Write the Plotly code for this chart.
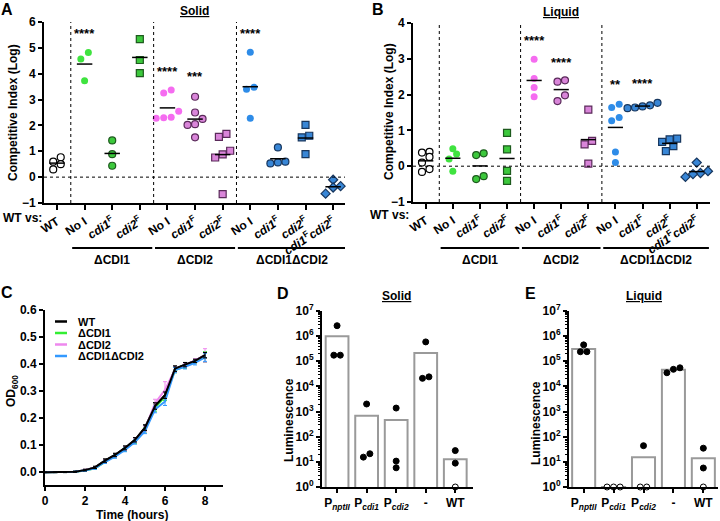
import numpy as np
import plotly.graph_objects as go

W, H = 720, 521
FONT = "Liberation Sans, Arial, sans-serif"


def px(x):
    return x / W


def py(y):
    return 1 - y / H


# ---------------- data: panel A (solid) and B (liquid), log competitive index
cat_labels = ["WT", "No I", "<i>cdi1</i><sup>F</sup>", "<i>cdi2</i><sup>F</sup>",
              "No I", "<i>cdi1</i><sup>F</sup>", "<i>cdi2</i><sup>F</sup>",
              "No I", "<i>cdi1</i><sup>F</sup>", "<i>cdi2</i><sup>F</sup>",
              "<i>cdi1</i><sup>F</sup><i>cdi2</i><sup>F</sup>"]
groups = ["ΔCDI1", "ΔCDI2", "ΔCDI1ΔCDI2"]

solid_wt = [0.77, 0.30, 0.50, 0.60]
solid_cdi1_noI = [4.82, 4.57, 3.73]
solid_cdi1_c1 = [1.42, 0.89, 0.44]
solid_cdi1_c2 = [5.34, 4.53, 4.02]
solid_cdi2_noI = [3.37, 3.25, 2.55, 2.30, 2.28, 2.32]
solid_cdi2_c1 = [3.11, 2.50, 2.25, 2.05, 2.02, 1.54]
solid_cdi2_c2 = [1.56, 1.67, 0.88, 1.02, 0.76, -0.66]
solid_dbl_noI = [4.83, 3.48, 3.40, 2.28]
solid_dbl_c1 = [1.15, 0.60, 0.53, 0.57]
solid_dbl_c2 = [2.02, 1.60, 1.54, 0.89]
solid_dbl_c12 = [-0.10, -0.35, -0.40, -0.64]
solid_stars = {1: "****", 3: "****", 4: "****", 5: "***", 7: "****"}
solid_star_y = {1: 5.55, 3: 6.15, 4: 4.1, 5: 3.9, 7: 5.55}

liquid_wt = [0.38, 0.40, 0.26, 0.10, -0.16, -0.08]
liquid_cdi1_noI = [0.49, 0.34, 0.20, -0.14]
liquid_cdi1_c1 = [0.36, 0.31, -0.28, -0.36]
liquid_cdi1_c2 = [0.93, 0.47, -0.13, -0.41]
liquid_cdi2_noI = [2.99, 2.45, 2.20, 1.94]
liquid_cdi2_c1 = [2.40, 2.36, 1.98, 1.82]
liquid_cdi2_c2 = [1.58, 0.71, 0.61, 0.07]
liquid_dbl_noI = [1.73, 1.64, 1.36, 1.27, 0.40, 0.10]
liquid_dbl_c1 = [1.62, 1.64, 1.67, 1.70, 1.77]
liquid_dbl_c2 = [0.75, 0.68, 0.77, 0.56, 0.42]
liquid_dbl_c12 = [0.10, -0.19, -0.22, -0.14, -0.30]
liquid_stars = {4: "****", 5: "****", 7: "**", 8: "****"}
liquid_star_y = {4: 3.5, 5: 2.9, 7: 2.27, 8: 2.3}

# ---------------- data: panel C growth curves
time_h = [0, 0.5, 1, 1.5, 2, 2.5, 3, 3.5, 4, 4.5, 5, 5.5, 6, 6.5, 7, 7.5, 8]
growth_names = ["WT", "ΔCDI1", "ΔCDI2", "ΔCDI1ΔCDI2"]
od_wt = [0.0, 0.0, 0.0, 0.002, 0.008, 0.018, 0.043, 0.064, 0.090, 0.120, 0.165, 0.245, 0.285, 0.383, 0.398, 0.412, 0.433]
od_cdi1 = [0.0, 0.0, 0.0, 0.002, 0.007, 0.015, 0.038, 0.060, 0.085, 0.115, 0.158, 0.238, 0.280, 0.378, 0.392, 0.410, 0.426]
od_cdi2 = [0.0, 0.0, 0.0, 0.002, 0.008, 0.017, 0.040, 0.062, 0.088, 0.118, 0.160, 0.255, 0.305, 0.380, 0.395, 0.412, 0.432]
od_dbl = [0.0, 0.0, 0.0, 0.002, 0.007, 0.015, 0.038, 0.058, 0.083, 0.112, 0.152, 0.232, 0.262, 0.378, 0.390, 0.405, 0.425]
sd_wt = [0.001, 0.001, 0.001, 0.002, 0.003, 0.004, 0.006, 0.006, 0.007, 0.008, 0.010, 0.012, 0.012, 0.010, 0.008, 0.006, 0.010]
sd_cdi1 = [0.001, 0.001, 0.001, 0.002, 0.003, 0.004, 0.005, 0.006, 0.007, 0.008, 0.009, 0.012, 0.015, 0.010, 0.008, 0.008, 0.020]
sd_cdi2 = [0.001, 0.001, 0.001, 0.002, 0.003, 0.004, 0.006, 0.006, 0.007, 0.008, 0.010, 0.015, 0.030, 0.010, 0.008, 0.008, 0.025]
sd_dbl = [0.001, 0.001, 0.001, 0.002, 0.003, 0.004, 0.005, 0.006, 0.007, 0.008, 0.009, 0.012, 0.015, 0.010, 0.008, 0.008, 0.015]

# ---------------- data: panels D and E luminescence
lum_labels = ["P<sub><i>nptII</i></sub>", "P<sub><i>cdi1</i></sub>", "P<sub><i>cdi2</i></sub>", "-", "WT"]
lum_solid = [[2.6e6, 1.75e5, 1.75e5], [2000, 15.4, 21], [1380, 5.8, 10.7], [5.9e5, 2.1e4, 2.4e4], [28, 8.9, 1]]
lum_liquid = [[4.5e5, 2.4e5, 2.4e5], [1, 1, 1], [44, 1, 1], [5.5e4, 3.5e4, 4.8e4], [35, 5.7, 1]]

# ---------------- styles
GREEN_L, GREEN, GREEN_E = "#3fe33f", "#3cc83c", "#1d5a1d"
PINK_L, PINK, PINK_E = "#f56cf0", "#d985d9", "#5a2a5a"
BLUE_L, BLUE, BLUE_E = "#2e8ce8", "#3886d6", "#17365e"
cat_style = [
    ("circle", "white", "black", 1.2),
    ("circle", GREEN_L, GREEN_L, 0),
    ("circle", GREEN, GREEN_E, 1.2),
    ("square", GREEN, GREEN_E, 1.2),
    ("circle", PINK_L, PINK_L, 0),
    ("circle", PINK, PINK_E, 1.2),
    ("square", PINK, PINK_E, 1.2),
    ("circle", BLUE_L, BLUE_L, 0),
    ("circle", BLUE, BLUE_E, 1.2),
    ("square", BLUE, BLUE_E, 1.2),
    ("diamond", BLUE, BLUE_E, 1.2),
]
growth_colors = ["black", "#33ee33", "#ee88ee", "#3399ff"]


def swarm(vals, px_y, px_x, diam):
    vals = np.asarray(vals, float)
    order = np.argsort(vals)
    off = np.zeros(len(vals))
    rows, cur = [], [order[0]]
    for i in order[1:]:
        if (vals[i] - vals[cur[0]]) * px_y < diam:
            cur.append(i)
        else:
            rows.append(cur)
            cur = [i]
    rows.append(cur)
    for row in rows:
        n = len(row)
        for j, i in enumerate(row):
            off[i] = (j - (n - 1) / 2) * diam / px_x
    return off


fig = go.Figure()
annos = []
shapes = []
tick_font = dict(family=FONT, size=12, color="black", weight="bold")


def bold(size=11, **kw):
    return dict(family=FONT, size=size, color="black", weight="bold", **kw)


def note(x, y, text, size=12, xref="paper", yref="paper", xanchor="center", angle=0, **fkw):
    annos.append(dict(x=x, y=y, xref=xref, yref=yref, text=text, showarrow=False,
                      xanchor=xanchor, yanchor="middle", textangle=angle, font=bold(size, **fkw)))


def scatter_panel(series, xa, ya, px_y, px_x, stars, star_y):
    for i, vals in enumerate(series):
        sym, fill, edge, lw = cat_style[i]
        off = swarm(vals, px_y, px_x, 7.5)
        fig.add_trace(go.Scatter(
            x=i + off, y=vals, mode="markers", xaxis=xa, yaxis=ya, cliponaxis=False,
            marker=dict(symbol=sym, size=7, color=fill, line=dict(color=edge, width=lw))))
        m = float(np.mean(vals))
        fig.add_trace(go.Scatter(x=[i - 0.28, i + 0.28], y=[m, m], mode="lines",
                                 xaxis=xa, yaxis=ya, line=dict(color="black", width=1.5)))
    for i, s in stars.items():
        note(i, star_y[i], s, 13, xref=xa, yref=ya)
    # dotted reference lines
    shapes.append(dict(type="line", xref=xa + " domain", yref=ya, x0=0, x1=1, y0=0, y1=0,
                       line=dict(color="black", width=1, dash="dot")))
    for xv in (0.5, 3.5, 6.5):
        shapes.append(dict(type="line", xref=xa, yref=ya + " domain", x0=xv, x1=xv, y0=0, y1=1,
                           line=dict(color="black", width=1, dash="dot")))


solid = [solid_wt, solid_cdi1_noI, solid_cdi1_c1, solid_cdi1_c2, solid_cdi2_noI, solid_cdi2_c1,
         solid_cdi2_c2, solid_dbl_noI, solid_dbl_c1, solid_dbl_c2, solid_dbl_c12]
liquid = [liquid_wt, liquid_cdi1_noI, liquid_cdi1_c1, liquid_cdi1_c2, liquid_cdi2_noI, liquid_cdi2_c1,
          liquid_cdi2_c2, liquid_dbl_noI, liquid_dbl_c1, liquid_dbl_c2, liquid_dbl_c12]
scatter_panel(solid, "x", "y", 25.86, 27.6, solid_stars, solid_star_y)
scatter_panel(liquid, "x2", "y2", 35.8, 27.1, liquid_stars, liquid_star_y)

# group underlines and labels
spans = [(0.55, 3.45), (3.55, 6.45), (6.55, 10.45)]
for xa in ("x", "x2"):
    for (a, b), g in zip(spans, groups):
        shapes.append(dict(type="line", xref=xa, yref="paper", x0=a, x1=b, y0=py(248), y1=py(248),
                           line=dict(color="black", width=2)))
        note((a + b) / 2, py(260), g, 12, xref=xa)

# ---------------- panel C
for name, od, sd, col in zip(growth_names, [od_wt, od_cdi1, od_cdi2, od_dbl],
                             [sd_wt, sd_cdi1, sd_cdi2, sd_dbl], growth_colors):
    fig.add_trace(go.Scatter(x=time_h, y=od, mode="lines", name=name, xaxis="x3", yaxis="y3",
                             line=dict(color=col, width=2),
                             error_y=dict(type="data", array=sd, color=col, thickness=1, width=2)))
# redraw WT on top
fig.add_trace(go.Scatter(x=time_h, y=od_wt, mode="lines", xaxis="x3", yaxis="y3",
                         line=dict(color="black", width=2),
                         error_y=dict(type="data", array=sd_wt, color="black", thickness=1, width=2)))
for k, (name, col) in enumerate(zip(growth_names, growth_colors)):
    yy = 321.5 + k * 11.5
    shapes.append(dict(type="line", xref="paper", yref="paper", x0=px(55), x1=px(67),
                       y0=py(yy), y1=py(yy), line=dict(color=col, width=2.5)))
    note(px(76), py(yy), name, 11, xanchor="left")


# ---------------- panels D and E
def lum_panel(data, xa, ya, px_x):
    means = [float(np.mean(v)) for v in data]
    fig.add_trace(go.Bar(x=list(range(5)), y=means, xaxis=xa, yaxis=ya, width=0.77,
                         marker=dict(color="white", line=dict(color="#9a9a9a", width=2))))
    for i, vals in enumerate(data):
        off = swarm(np.log10(vals), 25.2, px_x, 6.5)
        fills = ["white" if v <= 1 else "black" for v in vals]
        fig.add_trace(go.Scatter(x=i + off, y=vals, mode="markers", xaxis=xa, yaxis=ya,
                                 cliponaxis=False,
                                 marker=dict(size=6, color=fills, line=dict(color="black", width=1))))


lum_panel(lum_solid, "x4", "y4", 29.6)
lum_panel(lum_liquid, "x5", "y5", 29.8)

# ---------------- axes
ax_common = dict(showline=True, linecolor="black", linewidth=2, ticks="outside", tickwidth=2,
                 tickcolor="black", showgrid=False, zeroline=False, tickfont=tick_font,
                 automargin=False)
log_ticks = dict(type="log", range=[0, 7], tickvals=[10 ** k for k in range(8)],
                 ticktext=["10<sup>%d</sup>" % k for k in range(8)], ticklen=4,
                 minor=dict(ticks="outside", ticklen=2, tickwidth=1, tickcolor="black", dtick="D1"))
fig.update_layout(
    xaxis=dict(ax_common, domain=[px(44), px(345)], range=[-0.47, 10.43], anchor="y",
               tickvals=list(range(11)), ticktext=cat_labels, tickangle=-33, ticklen=5),
    yaxis=dict(ax_common, domain=[py(203), py(22)], range=[-1, 6], dtick=1, anchor="x", ticklen=4),
    xaxis2=dict(ax_common, domain=[px(413), px(710)], range=[-0.47, 10.49], anchor="y2",
                tickvals=list(range(11)), ticktext=cat_labels, tickangle=-33, ticklen=5),
    yaxis2=dict(ax_common, domain=[py(202), py(23)], range=[-1, 4], dtick=1, anchor="x2", ticklen=4),
    xaxis3=dict(ax_common, domain=[px(45), px(223)], range=[0, 8.9], dtick=2, anchor="y3", ticklen=4),
    yaxis3=dict(ax_common, domain=[py(485), py(310)], range=[-0.047, 0.6], dtick=0.1,
                tickformat=".1f", anchor="x3", ticklen=4),
    xaxis4=dict(ax_common, domain=[px(322), px(473)], range=[-0.51, 4.6], anchor="y4",
                tickvals=list(range(5)), ticktext=lum_labels, ticklen=4),
    yaxis4=dict(ax_common, domain=[py(487), py(311)], anchor="x4", **log_ticks),
    xaxis5=dict(ax_common, domain=[px(569), px(718)], range=[-0.49, 4.49], anchor="y5",
                tickvals=list(range(5)), ticktext=lum_labels, ticklen=4),
    yaxis5=dict(ax_common, domain=[py(487), py(311)], anchor="x5", **log_ticks),
)

# ---------------- titles, axis titles, panel letters
for txt, x, y in [("A", 7, 10), ("B", 378, 10), ("C", 7, 292), ("D", 283, 293), ("E", 530, 293)]:
    note(px(x), py(y), txt, 16)
for txt, x, y, ang in [("Competitive Index (Log)", 13, 113, -90),
                       ("Competitive Index (Log)", 389, 112, -90),
                       ("OD<sub>600</sub>", 12, 391, -90), ("Time (hours)", 132, 515, 0),
                       ("Luminescence", 289, 420, -90), ("Luminescence", 536, 423, -90)]:
    note(px(x), py(y), txt, 12, angle=ang)
for txt, x, y in [("Solid", 194, 11), ("Liquid", 561, 12), ("Solid", 396, 296), ("Liquid", 644, 296)]:
    note(px(x), py(y), txt, 12, lineposition="under")
for x, y in [(1, 218), (368, 215)]:
    note(px(x), py(y), "WT vs:", 12, xanchor="left")

fig.update_layout(width=W, height=H, margin=dict(l=0, r=0, t=0, b=0, pad=0, autoexpand=False),
                  showlegend=False,
                  plot_bgcolor="white", paper_bgcolor="white", annotations=annos, shapes=shapes,
                  font=dict(family=FONT, color="black"))
# plotly's page keeps the browser's 8px body margin; drop it so the figure fills the window
fig.write_html("out.html", config={"displayModeBar": False},
               post_script="document.body.style.margin='0';")
